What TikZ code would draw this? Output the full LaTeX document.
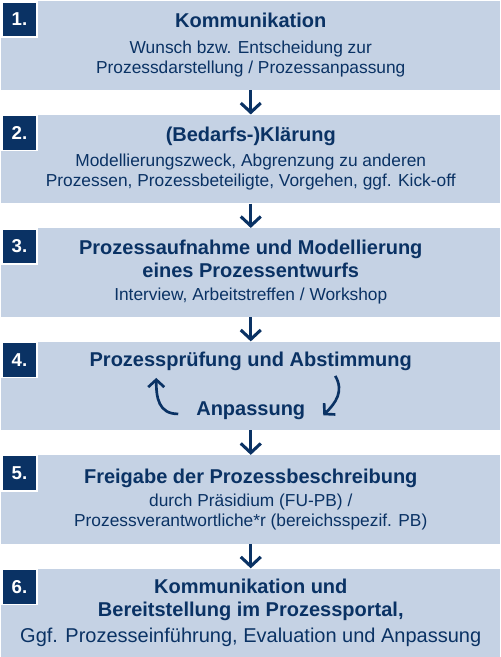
\documentclass[tikz,border=0pt]{standalone}
\usepackage{fontspec}
\setmainfont{Liberation Sans}
\usetikzlibrary{arrows.meta}
\usetikzlibrary{positioning}
\definecolor{fublau}{HTML}{0A3264}
\definecolor{fugrau}{HTML}{C5D2E4}
\newcommand{\kopf}[1]{{\fontsize{15}{18}\selectfont\bfseries #1}}
\tikzstyle{phase} = [rectangle, fill=fugrau, minimum width=374.25pt, minimum
height=66.4pt, align=center, text=fublau, font=\fontsize{13}{15}\selectfont, inner sep=0pt]
\tikzstyle{nummer} = [rectangle, fill=fublau, draw=white, line width=1.2pt, minimum
size=26.5pt, inner sep=0pt, text=white, font=\fontsize{14}{16}\selectfont\bfseries, anchor=north west]
\tikzstyle{arrow} = [line width=2.3pt, draw=fublau, -{Straight Barb[length=7pt,width=15pt]}]
\tikzstyle{schleife} = [line width=2pt, draw=fublau, -{Straight Barb[length=5.5pt,width=12pt]}]

\begin{document}
\begin{tikzpicture}[node distance=18.3pt]
    \useasboundingbox (0,0) rectangle (375pt,-492.75pt);
    \node (k1) [phase, anchor=north west] at (0.75pt,-0.75pt) {\kopf{Kommunikation}\\[4.5pt]
        Wunsch bzw. Entscheidung zur\\ Prozessdarstellung / Prozessanpassung};
    \node (k2) [phase, below=of k1] {\kopf{(Bedarfs-)Klärung}\\[3.75pt]
        Modellierungszweck, Abgrenzung zu anderen\\ Prozessen, Prozessbeteiligte, Vorgehen, ggf. Kick-off};
    \node (k3) [phase, below=of k2] {\kopf{Prozessaufnahme und Modellierung}\\[1.7pt]
        \kopf{eines Prozessentwurfs}\\[2.8pt] Interview, Arbeitstreffen / Workshop};
    \node (k4) [phase, below=of k3] {\kopf{Prozessprüfung und Abstimmung}\\[21.2pt] \kopf{Anpassung}};
    \node (k5) [phase, below=of k4] {\kopf{Freigabe der Prozessbeschreibung}\\[2.5pt]
        durch Präsidium (FU-PB) /\\ Prozessverantwortliche*r (bereichsspezif. PB)};
    \node (k6) [phase, below=of k5] {\kopf{Kommunikation und}\\[1.7pt] \kopf{Bereitstellung im Prozessportal,}\\[4.5pt]
        {\fontsize{15}{18}\selectfont Ggf. Prozesseinführung, Evaluation und Anpassung}};

    \node (n1) [nummer] at (k1.north west) {1.};
    \node (n2) [nummer] at (k2.north west) {2.};
    \node (n3) [nummer] at (k3.north west) {3.};
    \node (n4) [nummer] at (k4.north west) {4.};
    \node (n5) [nummer] at (k5.north west) {5.};
    \node (n6) [nummer] at (k6.north west) {6.};

    \coordinate (a1) at ([xshift=-54.4pt,yshift=-21pt]k4.center);
    \coordinate (a2) at ([xshift=-70.9pt,yshift=6pt]k4.center);
    \coordinate (a3) at ([xshift=63.4pt,yshift=7.5pt]k4.center);
    \coordinate (a4) at ([xshift=54.4pt,yshift=-22pt]k4.center);

    \draw[arrow] (k1) -- (k2);
    \draw[arrow] (k2) -- (k3);
    \draw[arrow] (k3) -- (k4);
    \draw[arrow] (k4) -- (k5);
    \draw[arrow] (k5) -- (k6);
    \draw[schleife] (a1) to[out=180, in=-90, looseness=1.2] (a2);
    \draw[schleife] (a3) to[out=-60, in=45, looseness=1.1] (a4);

\end{tikzpicture}
\end{document}
